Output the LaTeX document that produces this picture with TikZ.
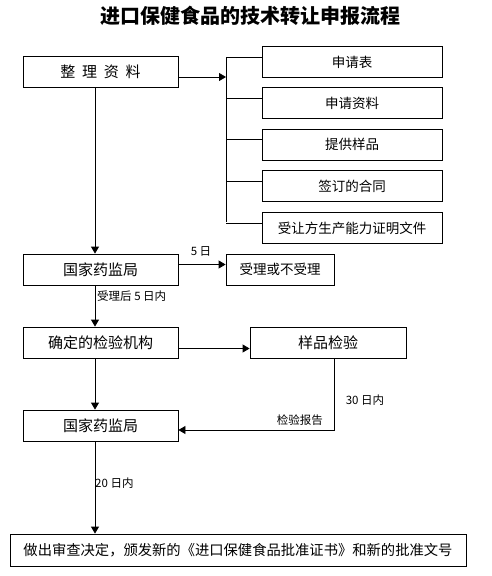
\documentclass[tikz,border=0pt]{standalone}
\usepackage{fontspec}
\setmainfont{Noto Sans CJK SC}
\usetikzlibrary{arrows.meta}
\tikzset{
  box/.style={draw, line width=0.8pt, inner sep=0pt, minimum height=31pt, font=\fontsize{13.5}{16}\selectfont},
  mainbox/.style={box, minimum width=155pt, font=\fontsize{15}{18}\selectfont},
  docbox/.style={box, minimum width=180pt},
  tag/.style={inner sep=1pt, font=\fontsize{11.5}{14}\selectfont},
  arr/.style={-{Triangle[width=8pt,length=7pt]}, line width=0.8pt},
  link/.style={line width=0.8pt}
}

\begin{document}
\begin{tikzpicture}[x=1pt,y=-1pt]
\useasboundingbox (0,0) rectangle (492,576);

% title
\node (title) at (250,16) {\fontsize{20}{24}\selectfont\bfseries 进口保健食品的技术转让申报流程};

% left column
\node[mainbox] (zl) at (100.5,72) {整\ \ 理\ \ 资\ \ 料};
\node[mainbox] (gj1) at (100.5,269.5) {国家药监局};
\node[mainbox] (qd) at (100.5,342.5) {确定的检验机构};
\node[mainbox] (gj2) at (100.5,425.5) {国家药监局};
\node[box, minimum width=456pt, minimum height=32pt, font=\fontsize{14.3}{17}\selectfont] (fin) at (238,550) {做出审查决定，颁发新的《进口保健食品批准证书》和新的批准文号};

% documents
\node[docbox] (b1) at (352,62) {申请表};
\node[docbox] (b2) at (352,103) {申请资料};
\node[docbox] (b3) at (352,144.5) {提供样品};
\node[docbox] (b4) at (352,186) {签订的合同};
\node[docbox] (b5) at (352,228) {受让方生产能力证明文件};

% right column
\node[box, minimum width=108pt] (sl) at (280,269.5) {受理或不受理};
\node[mainbox, minimum width=156pt] (yp) at (328,342.5) {样品检验};

% helper points
\coordinate (spine) at (95,0);
\coordinate (brin) at (226,77);
\coordinate (brt) at (226,57);
\coordinate (brb) at (226,222);

% bracket
\draw[arr] ([yshift=-5pt]zl.east) -- (brin);
\draw[link] (brt) -- (brb);
\foreach \b in {b1,b2,b3,b4,b5}
  \draw[link] ([yshift=5pt]\b.west) -- ++(-36,0);

% main flow
\draw[arr] (zl.south -| spine) -- (gj1.north -| spine);
\draw[arr] ([yshift=5pt]gj1.east) -- ([yshift=5pt]sl.west);
\draw[arr] (gj1.south -| spine) -- (qd.north -| spine);
\draw[arr] ([yshift=-6pt]qd.east) -- ([yshift=-6pt]yp.west);
\draw[arr] ([xshift=6pt]yp.south) |- ([yshift=-4.5pt]gj2.east);
\draw[arr] (qd.south -| spine) -- (gj2.north -| spine);
\draw[arr] (gj2.south -| spine) -- (fin.north -| spine);

% labels
\node[tag] (t5) at (201,251) {5 日};
\node[tag, anchor=west] (tsl) at (96,296) {受理后 5 日内};
\node[tag] (t30) at (365,400) {30 日内};
\node[tag, anchor=east] (tbg) at (324,420) {检验报告};
\node[tag, anchor=west] (t20) at (94,483) {20 日内};
\end{tikzpicture}
\end{document}
